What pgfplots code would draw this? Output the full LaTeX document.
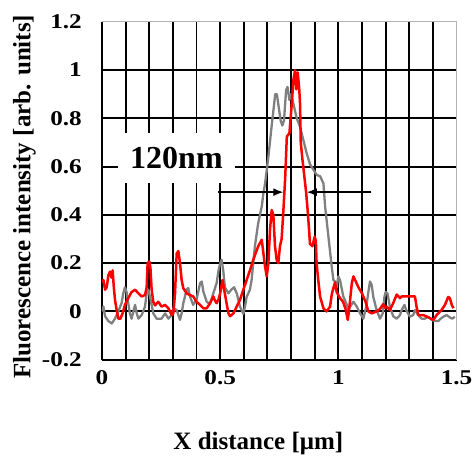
\documentclass[border=0pt]{standalone}
\usepackage{pgfplots}
\pgfplotsset{compat=1.18}
\usepackage{fontspec}
\setmainfont{Liberation Serif}
\newfontfamily\tickfont{Liberation Serif}[FakeStretch=1.2]
\usetikzlibrary{arrows.meta}
\definecolor{curvegray}{RGB}{128,128,128}
\definecolor{curvered}{RGB}{255,0,0}

\pgfplotstableread{
x y
0.000 0.12
0.006 0.13
0.013 0.09
0.020 0.10
0.027 0.15
0.034 0.165
0.040 0.14
0.045 0.17
0.050 0.10
0.055 0.048
0.062 0.006
0.069 -0.03
0.078 -0.03
0.088 -0.005
0.097 0.027
0.111 0.055
0.125 0.08
0.140 0.09
0.154 0.075
0.168 0.062
0.182 0.068
0.189 0.10
0.193 0.20
0.200 0.207
0.205 0.18
0.210 0.09
0.217 0.04
0.224 0.025
0.238 0.04
0.252 0.02
0.267 0.027
0.281 0.013
0.295 -0.015
0.302 -0.008
0.309 0.075
0.316 0.24
0.323 0.25
0.330 0.20
0.337 0.13
0.344 0.096
0.358 0.075
0.372 0.068
0.386 0.062
0.400 0.04
0.415 0.027
0.429 0.013
0.443 0.013
0.457 0.034
0.471 0.062
0.478 0.045
0.485 0.034
0.493 0.05
0.500 0.075
0.510 0.13
0.517 0.09
0.527 0.034
0.535 -0.008
0.542 -0.02
0.556 -0.008
0.570 0.02
0.584 0.048
0.598 0.09
0.612 0.13
0.626 0.17
0.640 0.214
0.661 0.27
0.676 0.297
0.683 0.24
0.690 0.186
0.697 0.145
0.704 0.2
0.711 0.34
0.718 0.42
0.725 0.40
0.732 0.27
0.739 0.214
0.746 0.20
0.753 0.27
0.760 0.30
0.767 0.41
0.775 0.55
0.782 0.724
0.793 0.738
0.803 0.86
0.810 0.96
0.817 1.0
0.822 0.92
0.828 0.99
0.834 0.93
0.838 0.86
0.841 0.70
0.848 0.63
0.855 0.57
0.864 0.49
0.870 0.42
0.876 0.34
0.880 0.28
0.890 0.27
0.900 0.31
0.905 0.29
0.908 0.20
0.915 0.13
0.923 0.06
0.937 0.013
0.950 0.0
0.965 0.02
0.972 0.07
0.980 0.10
0.986 0.12
0.993 0.08
1.007 0.055
1.020 0.04
1.030 0.012
1.040 -0.035
1.047 0.02
1.057 0.117
1.064 0.145
1.071 0.13
1.085 0.10
1.100 0.075
1.115 0.04
1.127 0.0
1.141 -0.008
1.162 0.0
1.176 0.01
1.190 0.03
1.197 0.015
1.204 0.02
1.218 0.006
1.232 0.034
1.247 0.07
1.261 0.055
1.268 0.062
1.289 0.062
1.310 0.062
1.324 0.062
1.331 0.02
1.338 -0.015
1.360 -0.015
1.388 -0.028
1.402 -0.035
1.416 -0.015
1.437 0.006
1.451 0.027
1.465 0.06
1.472 0.055
1.480 0.027
1.487 0.013
}\redtable

\pgfplotstableread{
x y
0.000 0.0
0.006 0.02
0.013 -0.02
0.027 -0.04
0.041 -0.05
0.055 -0.03
0.069 0.0
0.083 0.035
0.090 0.075
0.097 0.10
0.104 0.08
0.111 0.034
0.118 -0.008
0.125 -0.03
0.133 0.0
0.140 0.027
0.147 -0.008
0.154 -0.03
0.168 -0.015
0.182 0.02
0.189 0.075
0.196 0.09
0.203 0.062
0.217 -0.008
0.231 -0.03
0.252 -0.03
0.267 -0.008
0.281 -0.03
0.295 -0.015
0.302 0.013
0.316 0.006
0.330 -0.035
0.337 -0.008
0.344 0.034
0.358 0.09
0.365 0.097
0.372 0.062
0.386 0.027
0.400 0.048
0.415 0.117
0.422 0.124
0.429 0.082
0.443 0.04
0.457 0.03
0.471 0.075
0.485 0.117
0.493 0.17
0.500 0.2
0.506 0.214
0.513 0.17
0.520 0.10
0.535 0.075
0.547 0.09
0.559 0.10
0.570 0.075
0.584 0.02
0.598 -0.01
0.605 0.02
0.612 0.06
0.626 0.09
0.633 0.13
0.640 0.2
0.647 0.27
0.661 0.366
0.676 0.435
0.683 0.49
0.690 0.53
0.704 0.64
0.718 0.77
0.725 0.83
0.733 0.90
0.740 0.90
0.750 0.83
0.756 0.79
0.763 0.77
0.770 0.79
0.779 0.917
0.785 0.93
0.793 0.876
0.800 0.90
0.810 0.86
0.824 0.80
0.838 0.765
0.852 0.71
0.866 0.655
0.880 0.61
0.895 0.586
0.909 0.565
0.923 0.56
0.937 0.53
0.944 0.435
0.958 0.31
0.972 0.186
0.979 0.13
0.986 0.124
0.993 0.10
1.000 0.145
1.007 0.13
1.021 0.062
1.035 0.03
1.042 0.006
1.050 0.02
1.064 0.04
1.078 0.02
1.092 -0.008
1.106 -0.03
1.120 0.03
1.127 0.08
1.134 0.124
1.141 0.11
1.148 0.06
1.162 0.006
1.176 -0.03
1.188 -0.008
1.195 0.06
1.200 0.08
1.208 0.075
1.218 0.02
1.232 -0.02
1.247 -0.03
1.261 -0.015
1.268 0.006
1.280 0.027
1.287 0.006
1.303 -0.022
1.317 -0.015
1.324 0.006
1.338 -0.015
1.352 -0.03
1.366 -0.03
1.380 -0.022
1.395 -0.035
1.410 -0.04
1.423 -0.04
1.433 -0.03
1.444 -0.022
1.458 -0.015
1.472 -0.025
1.482 -0.03
1.493 -0.022
}\graytable

\begin{document}
\begin{tikzpicture}
\begin{axis}[
  scale only axis, width=354.5pt, height=338pt,
  xmin=0, xmax=1.5, ymin=-0.2, ymax=1.2,
  axis x line*=bottom, axis y line*=left,
  axis line style={black, line width=1.9pt, -},
  xtick={0,0.1,0.2,0.3,0.4,0.5,0.6,0.7,0.8,0.9,1,1.1,1.2,1.3,1.4},
  xticklabels={0,{},{},{},{},0.5,{},{},{},{},1,{},{},{},{}},
  extra x ticks={1.5}, extra x tick labels={1.5},
  extra x tick style={major grid style={gray!60, line width=1.4pt}},
  ytick={-0.2,0,0.2,0.4,0.6,0.8,1}, yticklabels={-0.2,0,0.2,0.4,0.6,0.8,1},
  extra y ticks={1.2}, extra y tick labels={1.2},
  extra y tick style={major grid style={gray!60, line width=1.4pt}},
  grid=major,
  major grid style={black, line width=1.9pt},
  major tick length=0pt, minor tick length=0pt,
  tick label style={font=\fontsize{21}{21}\selectfont\tickfont\bfseries},
  xticklabel style={anchor=north, inner sep=0pt, yshift=-11pt},
  yticklabel style={anchor=east, inner sep=0pt, xshift=-20pt},
  every axis x label/.style={at={(axis description cs:0.441,-0.2663)}, anchor=base},
  every axis y label/.style={at={(axis description cs:-0.2017,0.482)}, rotate=90, anchor=base},
  label style={font=\fontsize{25}{25}\selectfont\bfseries},
  xlabel={X distance [μm]},
  ylabel={Fluorescence intensity [arb. units]},
]
\addplot[curvegray, line width=2.3pt, line join=round] table[x=x,y=y] {\graytable};
\addplot[curvered, line width=2.5pt, line join=round] table[x=x,y=y] {\redtable};
\node[fill=white, minimum width=117pt, minimum height=50pt, inner sep=0pt,
      font=\fontsize{32}{32}\selectfont\bfseries] at (axis cs:0.315,0.636) {120nm};
\draw[line width=1.3pt, -{Latex[length=10pt,width=8pt]}] (axis cs:0.49,0.494) -- (axis cs:0.767,0.494);
\draw[line width=1.3pt, -{Latex[length=10pt,width=8pt]}] (axis cs:1.14,0.494) -- (axis cs:0.867,0.494);
\coordinate (sw) at (rel axis cs:0,0);
\coordinate (ne) at (rel axis cs:1,1);
\end{axis}
\pgfresetboundingbox
\path[use as bounding box] ([shift={(-102pt,-103pt)}]sw) rectangle ([shift={(18.5pt,21.7pt)}]ne);
\end{tikzpicture}
\end{document}
